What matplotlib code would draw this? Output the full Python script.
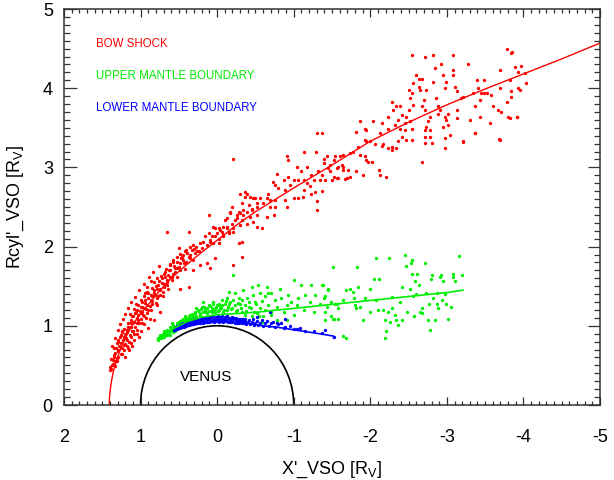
import numpy as np
import matplotlib
matplotlib.use("Agg")
import matplotlib.pyplot as plt
from matplotlib.patches import Arc
from matplotlib.ticker import MultipleLocator

plt.rcParams['font.family'] = ['Liberation Sans', 'DejaVu Sans']
plt.rcParams['axes.unicode_minus'] = False

# ── boundary crossings (X', Rcyl') in Venus radii ────────────────────────────

bow_shock_pts = np.array([
    (1.40, 0.44), (1.37, 0.50), (1.33, 0.55), (1.35, 0.63), (1.29, 0.69), (1.24, 0.65),
    (1.31, 0.78), (1.22, 0.76), (1.18, 0.82), (1.27, 0.86), (1.20, 0.90), (1.13, 0.86),
    (1.11, 0.93), (1.16, 0.99), (1.07, 0.99), (1.09, 1.05), (1.03, 1.07), (1.00, 1.16),
    (0.96, 1.12), (1.05, 1.20), (0.96, 1.22), (0.92, 1.26), (0.98, 1.30), (0.87, 1.33),
    (0.81, 1.39), (0.90, 1.41), (0.83, 1.45), (0.74, 1.45), (0.77, 1.52), (0.70, 1.49),
    (0.66, 1.58), (0.72, 1.60), (0.61, 1.62), (0.68, 1.68), (0.57, 1.66), (0.53, 1.73),
    (0.61, 1.77), (0.48, 1.79), (0.44, 1.83), (0.53, 1.87), (0.37, 1.87), (0.42, 1.94),
    (0.33, 1.96), (0.29, 1.92), (0.27, 2.00), (0.20, 1.98), (0.18, 2.06), (0.13, 2.02),
    (0.07, 2.13), (0.11, 2.17), (0.00, 2.17), (-0.04, 2.21), (-0.08, 2.15), (-0.13, 2.25),
    (-0.19, 2.29), (-0.23, 2.34), (-0.17, 2.42), (-0.30, 2.42), (-0.32, 2.55), (-0.39, 2.67),
    (-0.37, 2.69), (-0.47, 2.61), (-0.45, 2.46),
    (0.66, 2.19), (0.37, 2.19), (0.50, 1.98), (0.09, 1.73), (-0.21, 1.77), (-0.32, 1.87),
    (0.03, 1.85), (0.13, 1.79), (0.22, 1.77), (0.31, 1.70), (0.37, 1.49), (0.48, 1.47),
    (0.79, 1.26), (0.74, 1.18), (0.83, 1.07), (0.90, 0.97),
    (1.40, 0.48), (1.36, 0.57), (1.31, 0.59), (1.35, 0.72), (1.24, 0.72), (1.20, 0.61),
    (1.29, 0.82), (1.24, 0.93), (1.18, 0.74), (1.13, 0.78), (1.09, 0.82), (1.20, 0.84),
    (1.05, 0.90), (1.00, 0.93), (1.18, 0.95), (1.13, 1.03), (1.05, 1.03), (0.98, 1.03),
    (1.11, 1.12), (1.07, 1.16), (1.03, 1.14), (0.92, 1.16), (1.00, 1.24), (0.94, 1.33),
    (0.85, 1.28), (0.90, 1.20), (0.85, 1.37), (0.79, 1.35), (0.94, 1.41), (0.74, 1.39),
    (0.79, 1.47), (0.72, 1.54), (0.66, 1.52), (0.68, 1.62), (0.59, 1.58), (0.63, 1.70),
    (0.55, 1.73), (0.57, 1.81), (0.48, 1.70), (0.46, 1.87), (0.40, 1.81), (0.35, 1.89),
    (0.31, 1.83), (0.40, 1.96), (0.24, 1.94), (0.22, 2.04), (0.31, 2.02), (0.16, 2.13),
    (0.09, 2.08), (0.05, 2.04), (-0.02, 2.10), (0.03, 2.23), (-0.08, 2.25), (-0.15, 2.19),
    (-0.21, 2.23), (-0.26, 2.40), (-0.13, 2.36), (-0.34, 2.46), (-0.41, 2.53), (-0.32, 2.34),
    (-0.52, 2.50),
    (1.39, 0.46), (1.36, 0.52), (1.34, 0.49), (1.31, 0.56), (1.38, 0.58), (1.29, 0.60),
    (1.35, 0.61), (1.33, 0.66), (1.30, 0.68), (1.26, 0.64), (1.22, 0.70), (1.28, 0.74),
    (1.32, 0.72), (1.25, 0.78), (1.20, 0.77), (1.17, 0.72), (1.29, 0.80), (1.23, 0.82),
    (1.15, 0.80), (1.26, 0.88), (1.21, 0.86), (1.18, 0.92), (1.14, 0.88), (1.10, 0.94),
    (1.22, 0.96), (1.16, 0.98), (1.08, 0.90), (1.12, 0.99), (1.19, 0.85), (1.05, 0.95),
    (1.24, 0.92), (1.17, 1.03), (1.13, 1.07), (1.08, 1.05), (1.02, 1.03), (1.10, 1.12),
    (1.05, 1.10), (0.99, 1.09), (1.14, 1.15), (1.06, 1.18), (0.97, 1.14), (1.01, 1.19),
    (0.93, 1.10), (1.09, 1.21), (1.03, 1.26), (0.98, 1.24), (0.93, 1.21), (0.88, 1.25),
    (0.99, 1.32), (0.94, 1.29), (0.90, 1.35), (0.85, 1.31), (0.80, 1.29), (0.96, 1.38),
    (0.87, 1.39), (0.82, 1.42), (0.91, 1.43), (0.85, 1.48), (0.80, 1.50), (0.75, 1.47),
    (0.71, 1.43), (0.83, 1.55), (0.76, 1.56), (0.69, 1.53), (0.79, 1.60), (0.73, 1.63),
    (0.65, 1.55), (0.70, 1.66), (0.64, 1.64), (0.59, 1.61), (0.67, 1.72), (0.61, 1.70),
    (0.55, 1.68), (0.62, 1.78), (0.56, 1.76), (0.50, 1.74), (0.58, 1.83), (0.52, 1.81),
    (0.47, 1.85), (0.43, 1.79), (0.49, 1.91), (0.44, 1.89), (0.39, 1.92), (0.35, 1.85),
    (0.36, 1.99), (0.30, 1.97), (0.26, 1.95),
    (1.37, 0.75), (1.34, 0.84), (1.30, 0.95), (1.27, 1.02), (1.23, 1.08), (1.20, 1.15),
    (1.16, 1.22), (1.12, 1.30), (1.07, 1.36), (1.02, 1.45), (0.96, 1.53), (0.89, 1.61),
    (0.84, 1.68), (0.76, 1.75), (1.15, 0.69), (1.11, 0.75), (1.02, 0.86), (0.95, 1.02),
    (0.88, 1.09), (1.06, 1.28), (0.98, 1.17), (0.86, 1.20), (0.77, 1.37), (0.92, 1.49),
    (0.71, 1.37), (0.64, 1.47), (0.86, 1.56), (0.53, 1.62), (0.42, 1.72),
    (0.11, 2.40), (0.05, 2.25), (-0.02, 2.23), (-0.06, 2.18), (-0.13, 2.23), (-0.15, 2.17),
    (-0.08, 2.13), (0.03, 2.13), (0.09, 2.06), (-0.02, 2.04), (-0.19, 2.50), (-0.28, 2.44),
    (-0.30, 2.67), (-0.37, 2.62), (-0.43, 2.63), (-0.50, 2.61), (-0.56, 2.61), (-0.65, 2.61),
    (-0.67, 2.67), (-0.52, 2.55), (-0.60, 2.55), (-0.69, 2.50), (-0.76, 2.50), (-0.45, 2.48),
    (-0.39, 2.44), (-0.34, 2.40), (-0.43, 2.38), (-0.52, 2.40), (-0.65, 2.38), (-0.74, 2.40),
    (-0.26, 2.36), (-0.17, 2.44), (-0.10, 2.34), (-0.47, 2.31), (-0.39, 2.29), (-0.30, 2.27),
    (-0.21, 2.19), (-0.52, 2.25), (-0.58, 2.23), (-0.28, 2.04), (-0.32, 2.06), (-0.69, 2.59),
    (-0.76, 2.59), (-0.73, 2.82), (-0.76, 2.78), (-0.78, 2.92), (-0.80, 2.74), (-0.87, 2.84),
    (-0.91, 3.14), (-0.93, 2.88), (-0.89, 2.71), (-0.95, 2.78), (-1.00, 2.84), (-1.04, 3.01),
    (-1.06, 2.84), (-1.10, 2.95), (-1.13, 2.84), (-1.17, 2.80), (-1.21, 2.76), (-1.23, 2.90),
    (-1.26, 2.84), (-1.28, 2.69), (-1.30, 2.57), (-1.30, 2.46), (-1.13, 3.19), (-1.29, 3.19),
    (-1.31, 3.43), (-1.37, 3.43), (-1.32, 2.95), (-1.37, 2.90), (-1.34, 2.84), (-1.39, 3.11),
    (-1.41, 2.84), (-1.45, 2.99), (-1.47, 3.03), (-1.47, 2.95), (-1.50, 2.84), (-1.52, 3.09),
    (-1.54, 3.14), (-1.56, 2.86), (-1.58, 3.01), (-1.63, 3.03), (-1.64, 2.97), (-1.65, 3.16),
    (-1.69, 2.86), (-1.71, 2.97), (-1.73, 3.18), (-1.39, 3.05), (-1.43, 3.14), (-0.89, 2.59),
    (-0.91, 2.50), (-1.00, 2.61), (-1.06, 2.61), (-1.17, 3.01), (-1.13, 2.71), (-1.23, 2.67),
    (-0.93, 3.09), (-0.21, 3.11), (-1.37, 2.70), (-1.12, 2.63),
    (-1.60, 3.14), (-1.56, 2.99), (-1.65, 3.01), (-1.52, 2.88), (-1.67, 2.85), (-1.73, 2.88),
    (-1.58, 2.86), (-1.82, 2.95), (-1.91, 2.90), (-1.93, 3.14), (-1.95, 3.09), (-1.97, 3.07),
    (-2.02, 3.07), (-2.11, 2.97), (-2.13, 2.90), (-2.20, 2.88), (-1.86, 3.16), (-1.77, 3.20),
    (-1.84, 3.26), (-1.93, 3.35), (-1.95, 3.33), (-2.00, 3.33), (-1.86, 3.58), (-1.82, 3.45),
    (-1.95, 3.47), (-1.93, 3.49), (-2.04, 3.58), (-2.06, 3.29), (-2.15, 3.27), (-2.17, 3.29),
    (-2.23, 3.24), (-2.28, 3.22), (-2.28, 3.26), (-2.34, 3.24), (-2.13, 3.43), (-2.15, 3.56),
    (-2.23, 3.49), (-2.23, 3.64), (-2.28, 3.83), (-2.30, 3.72), (-2.34, 3.77), (-2.39, 3.77),
    (-2.41, 3.66), (-2.36, 3.60), (-2.32, 3.54), (-2.39, 3.49), (-2.45, 3.56), (-2.47, 3.64),
    (-2.50, 3.72), (-2.52, 3.58), (-2.41, 3.39), (-2.36, 3.33), (-2.47, 3.35), (-2.54, 3.35),
    (-2.45, 3.47), (-2.54, 3.49), (-2.56, 3.79), (-2.52, 3.87), (-2.50, 3.98), (-2.54, 3.94),
    (-2.56, 4.06), (-2.60, 4.17), (-2.63, 4.12), (-2.67, 4.12), (-2.63, 4.02), (-2.65, 3.98),
    (-2.70, 3.85), (-2.67, 3.77), (-2.71, 3.72), (-2.73, 3.98), (-2.73, 3.51), (-2.78, 3.64),
    (-2.78, 3.47), (-2.71, 3.47), (-2.76, 3.58), (-2.71, 3.39), (-2.78, 3.39), (-2.80, 3.31),
    (-2.71, 3.31), (-2.67, 3.07), (-2.54, 4.42), (-2.71, 4.40), (-2.82, 4.42), (-2.82, 4.08),
    (-2.84, 4.26), (-2.86, 3.87), (-2.89, 3.77), (-2.89, 3.68), (-2.91, 3.72), (-2.93, 4.31),
    (-2.95, 4.17), (-2.97, 4.00), (-2.99, 4.08), (-2.97, 3.64), (-2.99, 3.60), (-3.02, 3.68),
    (-3.02, 3.54), (-2.95, 3.51), (-2.97, 3.37), (-2.97, 3.24), (-3.04, 3.41), (-3.08, 4.42),
    (-3.08, 4.23), (-3.08, 4.17), (-3.10, 4.02), (-3.13, 3.96), (-3.13, 3.72), (-3.13, 3.62),
    (-3.21, 3.89), (-3.19, 3.87), (-3.21, 3.33), (-3.27, 4.31), (-3.30, 3.60), (-3.34, 3.94),
    (-3.37, 3.77), (-3.37, 3.43), (-3.39, 4.10), (-3.41, 4.00), (-3.43, 3.64), (-3.43, 3.85),
    (-3.45, 3.94), (-3.49, 4.10), (-3.49, 3.94), (-3.52, 3.94), (-3.56, 3.56), (-3.58, 3.92),
    (-3.60, 3.77), (-3.67, 3.72), (-3.69, 4.23), (-3.69, 4.00), (-3.69, 3.35), (-3.71, 3.70),
    (-3.78, 3.83), (-3.78, 4.50), (-3.84, 4.44), (-3.85, 4.46), (-3.82, 4.10), (-3.84, 3.96),
    (-3.84, 3.89), (-3.80, 3.64), (-3.89, 4.27), (-3.91, 3.64), (-3.93, 4.21), (-3.93, 4.00),
    (-3.95, 3.98), (-3.97, 4.28), (-4.02, 4.19), (-4.04, 4.07), (-3.83, 3.63), (-3.92, 3.64),
    (-3.68, 3.36), (-3.21, 3.32), (-3.37, 3.43),
])

upper_mantle_pts = np.array([
    (0.77, 0.82), (0.74, 0.88), (0.70, 0.93), (0.72, 0.86), (0.66, 0.95), (0.63, 0.90),
    (0.61, 0.98), (0.57, 0.97), (0.59, 1.03), (0.53, 1.01), (0.55, 0.96), (0.50, 1.05),
    (0.46, 1.07), (0.48, 1.03), (0.42, 1.12), (0.40, 1.07), (0.35, 1.14), (0.33, 1.09),
    (0.29, 1.16), (0.24, 1.18), (0.27, 1.22), (0.20, 1.24), (0.16, 1.20), (0.18, 1.30),
    (0.11, 1.26), (0.07, 1.22), (0.05, 1.30), (0.00, 1.26), (-0.04, 1.24), (-0.06, 1.33),
    (-0.10, 1.28), (-0.13, 1.35), (-0.17, 1.30), (-0.15, 1.43), (-0.23, 1.41), (-0.21, 1.64),
    (-0.28, 1.35), (-0.30, 1.28), (-0.34, 1.45), (-0.39, 1.35), (-0.41, 1.24), (-0.45, 1.49),
    (-0.47, 1.39), (-0.50, 1.30), (-0.54, 1.51), (-0.56, 1.41), (-0.56, 1.22), (-0.63, 1.37),
    (-0.65, 1.49), (-0.67, 1.26), (-0.71, 1.41), (-0.76, 1.33), (-0.78, 1.24), (-0.82, 1.47),
    (-0.84, 1.35), (-0.87, 1.18), (-0.91, 1.26), (-0.93, 1.39), (-0.97, 1.30), (-1.00, 1.58),
    (-1.00, 1.14), (-1.04, 1.26), (-1.06, 1.35), (-1.10, 1.51), (-1.13, 1.20), (-1.15, 1.39),
    (-1.21, 1.30), (-1.23, 1.51), (-1.26, 1.18), (-1.28, 1.39), (-1.34, 1.28), (-1.38, 1.51),
    (-1.41, 1.37), (-1.43, 1.24), (-1.45, 1.47), (-1.52, 1.09), (-1.56, 1.28),
    (0.68, 0.88), (0.61, 0.93), (0.57, 1.01), (0.50, 1.00), (0.44, 1.05), (0.37, 1.09),
    (0.31, 1.12), (0.22, 1.14), (0.13, 1.16), (0.07, 1.17), (0.03, 1.18), (-0.02, 1.20),
    (-0.08, 1.18), (-0.13, 1.20), (-0.19, 1.22), (-0.26, 1.20), (-0.32, 1.18), (-0.37, 1.14),
    (-0.45, 1.12), (-0.52, 1.16), (-0.60, 1.12), (-0.71, 1.14), (-0.78, 1.07), (-0.91, 1.07),
    (-0.58, 1.05),
    (0.76, 0.85), (0.73, 0.84), (0.71, 0.90), (0.69, 0.86), (0.67, 0.92), (0.65, 0.89),
    (0.63, 0.94), (0.62, 0.88), (0.60, 0.95), (0.58, 0.92), (0.56, 0.99), (0.55, 0.93),
    (0.53, 1.03), (0.51, 0.99), (0.49, 1.06), (0.47, 1.02), (0.45, 1.09), (0.43, 1.06),
    (0.41, 1.10), (0.39, 1.08), (0.37, 1.13), (0.35, 1.10), (0.33, 1.15), (0.31, 1.11),
    (0.29, 1.18), (0.27, 1.13), (0.25, 1.20), (0.23, 1.15), (0.21, 1.21), (0.19, 1.17),
    (0.17, 1.24), (0.15, 1.18), (0.13, 1.22), (0.11, 1.19), (0.09, 1.25), (0.07, 1.20),
    (0.05, 1.27), (0.03, 1.21), (0.01, 1.24), (-0.01, 1.19), (-0.03, 1.28), (-0.05, 1.22),
    (-0.07, 1.26), (-0.09, 1.20), (-0.12, 1.31), (-0.14, 1.24), (-0.16, 1.27), (-0.18, 1.21),
    (-0.21, 1.33), (-0.23, 1.26), (-0.25, 1.19), (-0.27, 1.29), (-0.31, 1.23), (-0.33, 1.32),
    (-0.36, 1.26), (-0.38, 1.19), (-0.41, 1.30), (-0.44, 1.22), (-0.48, 1.17), (-0.51, 1.27),
    (-0.55, 1.13), (-0.58, 1.31), (-0.62, 1.20), (-0.66, 1.42), (-0.70, 1.17),
    (-1.37, 1.52), (-1.45, 1.45), (-1.39, 1.35), (-1.49, 1.30), (-1.54, 1.28), (-1.41, 1.18),
    (-1.49, 1.12), (-1.51, 1.09), (-1.41, 1.07), (-1.58, 1.22), (-1.58, 1.09), (-1.51, 1.74),
    (-1.64, 1.33), (-1.68, 1.45), (-1.73, 1.46), (-1.78, 1.43), (-1.79, 1.35), (-1.80, 1.26),
    (-1.82, 1.22), (-1.84, 1.49), (-1.83, 1.74), (-1.86, 1.24), (-1.90, 1.07), (-1.93, 1.35),
    (-1.99, 1.18), (-2.00, 1.46), (-2.05, 1.59), (-2.07, 1.86), (-2.08, 1.33), (-2.10, 1.20),
    (-2.12, 1.59), (-2.17, 1.20), (-2.19, 1.07), (-2.20, 0.93), (-2.19, 0.85), (-2.23, 1.18),
    (-2.25, 1.86), (-2.26, 1.05), (-2.28, 1.36), (-2.29, 1.22), (-2.32, 1.14), (-2.34, 1.07),
    (-2.36, 1.01), (-2.39, 1.30), (-2.41, 1.07), (-2.42, 1.49), (-2.45, 1.89), (-2.47, 1.75),
    (-2.48, 1.18), (-2.52, 1.47), (-2.53, 1.79), (-2.54, 1.66), (-2.55, 1.83), (-2.56, 1.37),
    (-2.57, 1.12), (-2.58, 1.56), (-2.60, 1.40), (-2.61, 1.66), (-2.63, 1.52), (-2.65, 1.18),
    (-2.67, 1.16), (-2.68, 1.22), (-2.71, 1.79), (-2.73, 1.41), (-2.76, 1.07), (-2.77, 1.28),
    (-2.78, 0.95), (-2.79, 1.59), (-2.80, 1.64), (-2.82, 1.35), (-2.84, 1.07), (-2.87, 1.28),
    (-2.87, 1.41), (-2.89, 1.22), (-2.91, 1.61), (-2.93, 1.64), (-2.94, 1.33), (-2.95, 1.56),
    (-2.97, 1.40), (-2.99, 1.28), (-3.02, 1.09), (-3.06, 1.24), (-3.08, 1.66), (-3.08, 1.61),
    (-3.10, 1.56), (-3.16, 1.88), (-3.20, 1.64), (-1.64, 0.87), (-1.68, 0.85),
])

lower_mantle_pts = np.array([
    (0.56, 0.95), (0.55, 0.97), (0.54, 0.99), (0.53, 0.96), (0.52, 1.00), (0.51, 0.97),
    (0.50, 0.99), (0.49, 1.01), (0.48, 0.97), (0.47, 1.02), (0.46, 0.99), (0.45, 1.01),
    (0.44, 1.03), (0.43, 0.99), (0.42, 1.02), (0.41, 1.04), (0.40, 1.00), (0.39, 1.03),
    (0.38, 1.05), (0.37, 1.01), (0.36, 1.04), (0.35, 1.06), (0.34, 1.02), (0.33, 1.05),
    (0.32, 1.07), (0.31, 1.02), (0.30, 1.05), (0.29, 1.08), (0.28, 1.03), (0.27, 1.06),
    (0.26, 1.08), (0.25, 1.03), (0.24, 1.06), (0.23, 1.09), (0.22, 1.04), (0.21, 1.07),
    (0.20, 1.10), (0.19, 1.04), (0.18, 1.07), (0.17, 1.10), (0.16, 1.05), (0.15, 1.08),
    (0.14, 1.11), (0.13, 1.05), (0.12, 1.08), (0.11, 1.11), (0.10, 1.05), (0.09, 1.08),
    (0.08, 1.12), (0.07, 1.06), (0.06, 1.09), (0.05, 1.12), (0.04, 1.05), (0.03, 1.09),
    (0.02, 1.11), (0.01, 1.06), (0.00, 1.09), (-0.01, 1.12), (-0.02, 1.05), (-0.03, 1.08),
    (-0.04, 1.11), (-0.05, 1.06), (-0.06, 1.09), (-0.07, 1.12), (-0.08, 1.05), (-0.09, 1.08),
    (-0.10, 1.11), (-0.11, 1.06), (-0.12, 1.09), (-0.13, 1.12), (-0.14, 1.05), (-0.15, 1.08),
    (-0.16, 1.10), (-0.17, 1.05), (-0.18, 1.08), (-0.19, 1.11), (-0.20, 1.05), (-0.21, 1.08),
    (-0.22, 1.10), (-0.23, 1.04), (-0.24, 1.07), (-0.25, 1.10), (-0.26, 1.04), (-0.27, 1.07),
    (-0.28, 1.09), (-0.29, 1.04), (-0.30, 1.06), (-0.31, 1.09), (-0.32, 1.03), (-0.33, 1.06),
    (-0.34, 1.08), (-0.35, 1.03), (-0.36, 1.06), (-0.37, 1.08), (-0.38, 1.02), (-0.40, 1.05),
    (-0.42, 1.07), (-0.43, 1.02), (-0.45, 1.05), (-0.47, 1.08), (-0.48, 1.01), (-0.50, 1.04),
    (-0.52, 1.06), (-0.54, 1.01), (-0.56, 1.04), (-0.58, 1.07), (-0.60, 1.00), (-0.62, 1.03),
    (-0.65, 1.06), (-0.68, 1.00), (-0.70, 1.03), (-0.73, 1.05), (-0.76, 0.99), (-0.80, 1.02),
    (-0.84, 1.04), (-0.88, 0.98), (-0.69, 1.18), (-0.52, 1.11), (-0.78, 1.03), (-0.89, 1.09),
    (-0.87, 0.97), (-1.04, 0.96), (-1.08, 0.97), (-1.26, 0.93), (-1.37, 0.91), (-1.41, 0.95),
    (-1.52, 0.86), (-1.15, 0.94), (-0.95, 1.00), (-1.00, 0.96),
])

# fitted boundary shapes
bow_fit_x = [1.41, 1.405, 1.395, 1.38, 1.36, 1.335, 1.30, 1.265, 1.22, 1.17, 1.11, 1.04,
             0.96, 0.87, 0.77, 0.60, 0.40, 0.20, 0.00, -0.25, -0.50, -1.00, -1.50, -2.00,
             -2.50, -3.00, -3.50, -4.00, -4.50, -5.00]
bow_fit_y = [0.00, 0.10, 0.20, 0.30, 0.40, 0.50, 0.60, 0.70, 0.80, 0.90, 1.00, 1.10,
             1.20, 1.30, 1.42, 1.60, 1.77, 1.93, 2.08, 2.27, 2.44, 2.74, 3.03, 3.33,
             3.57, 3.79, 3.99, 4.18, 4.37, 4.57]

umb_fit_x = [0.78, 0.60, 0.40, 0.20, 0.00, -0.50, -1.00, -1.50, -2.00, -2.50, -3.00, -3.21]
umb_fit_y = [0.84, 0.95, 1.05, 1.11, 1.14, 1.17, 1.22, 1.27, 1.32, 1.37, 1.42, 1.45]

lmb_fit_x = [0.56, 0.40, 0.20, 0.00, -0.20, -0.40, -0.60, -0.80, -1.00, -1.20, -1.40, -1.52, -1.52]
lmb_fit_y = [0.93, 0.99, 1.03, 1.05, 1.05, 1.03, 1.00, 0.98, 0.95, 0.92, 0.89, 0.87, 0.85]

RED, GREEN, BLUE = '#ff0000', '#00ee00', '#0000ff'

fig = plt.figure(figsize=(6.14, 4.8), dpi=100)
ax = fig.add_axes([0.1042, 0.15625, 0.873, 0.825])

ms = 2.4
ax.plot(bow_shock_pts[:, 0], bow_shock_pts[:, 1], 'o', color=RED, ms=ms, mew=0)
ax.plot(bow_fit_x, bow_fit_y, color=RED, lw=1.0)
ax.plot(upper_mantle_pts[:, 0], upper_mantle_pts[:, 1], 'o', color=GREEN, ms=ms, mew=0)
ax.plot(lower_mantle_pts[:, 0], lower_mantle_pts[:, 1], 'o', color=BLUE, ms=ms, mew=0)
ax.plot(umb_fit_x, umb_fit_y, color=GREEN, lw=1.2)
ax.plot(lmb_fit_x, lmb_fit_y, color=BLUE, lw=1.2)

# the planet
ax.add_patch(Arc((0, 0), 2, 2, theta1=0, theta2=180, color='black', lw=1.2))
ax.text(0.14, 0.35, 'VENUS', fontsize=11, ha='center', va='center')

ax.text(1.58, 4.56, 'BOW SHOCK', color=RED, fontsize=8.3, va='center')
ax.text(1.58, 4.15, 'UPPER MANTLE BOUNDARY', color=GREEN, fontsize=8.3, va='center')
ax.text(1.58, 3.75, 'LOWER MANTLE BOUNDARY', color=BLUE, fontsize=8.3, va='center')

ax.set_xlim(2, -5)
ax.set_ylim(0, 5)
ax.xaxis.set_major_locator(MultipleLocator(1))
ax.xaxis.set_minor_locator(MultipleLocator(0.1))
ax.yaxis.set_major_locator(MultipleLocator(1))
ax.yaxis.set_minor_locator(MultipleLocator(0.1))
ax.tick_params(axis='both', which='both', direction='in', top=True, right=True,
               color='#333333', width=0.9)
ax.tick_params(axis='x', which='major', length=6, pad=17, labelsize=13)
ax.tick_params(axis='x', which='minor', length=3)
ax.tick_params(axis='y', which='major', length=9, pad=8, labelsize=13)
ax.tick_params(axis='y', which='minor', length=4.5)
for spine in ax.spines.values():
    spine.set_color('#333333')
    spine.set_linewidth(1.1)

ax.set_xlabel("X'_VSO [R$_\\mathregular{V}$]", fontsize=13, labelpad=10)
ax.set_ylabel("Rcyl'_VSO [R$_\\mathregular{V}$]", fontsize=13, labelpad=12)

fig.savefig('out.png', dpi=100)
